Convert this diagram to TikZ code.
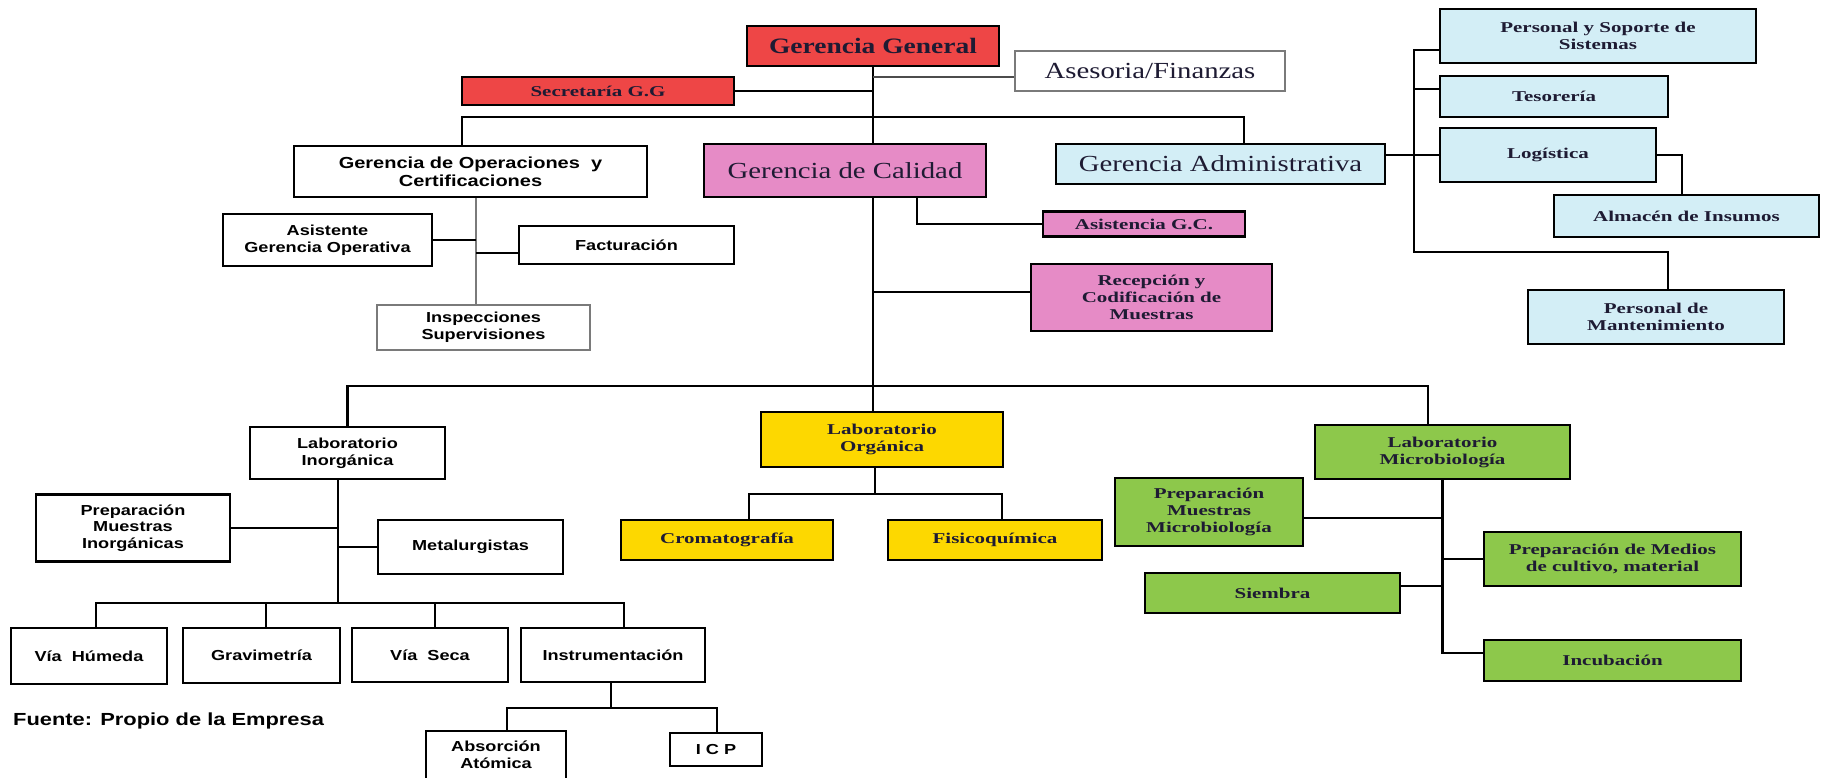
\documentclass[tikz,border=0pt]{standalone}
\usepackage{fontspec}
\usetikzlibrary{backgrounds}
\newfontfamily\serifbig[FakeStretch=1.25]{Liberation Serif}
\newfontfamily\serifsm[FakeStretch=1.4]{Liberation Serif}
\newfontfamily\sansb[FakeStretch=1.25]{Liberation Sans}

\definecolor{rojo}{HTML}{EE4646}
\definecolor{rosa}{HTML}{E68BC6}
\definecolor{celeste}{HTML}{D3EEF6}
\definecolor{amarillo}{HTML}{FDD800}
\definecolor{verde}{HTML}{8DC84B}
\definecolor{serifink}{HTML}{1E1B33}
\definecolor{gris}{HTML}{7A7A7A}

\tikzset{
  box/.style={draw=black, line width=2.8pt, inner sep=0pt, align=center, fill=white},
  wh/.style 2 args={minimum width=#1, minimum height=#2},
  bigtxt/.style={font=\serifbig\fontsize{23}{26}\selectfont, text=serifink},
  bigbold/.style={font=\serifbig\bfseries\fontsize{22}{25}\selectfont, text=serifink},
  smtxt/.style={font=\serifsm\bfseries\fontsize{15}{17}\selectfont, text=serifink},
  sanstxt/.style={font=\sansb\bfseries\fontsize{14.5}{16.7}\selectfont, text=black},
  redbox/.style={box, fill=rojo},
  pinkbox/.style={box, fill=rosa},
  bluebox/.style={box, fill=celeste},
  yellowbox/.style={box, fill=amarillo},
  greenbox/.style={box, fill=verde},
  graybox/.style={box, draw=gris, line width=1.8pt},
  conn/.style={draw=black, line width=2.6pt},
  grayconn/.style={draw=gris, line width=2.2pt},
  thinconn/.style={draw=black!70, line width=1.3pt},
}

\begin{document}
\begin{tikzpicture}[x=1pt, y=-1pt]
\useasboundingbox (0,0) rectangle (1822,778);

% --- top management ---
\node[redbox, bigbold, wh={252}{40}] (gg) at (873,46) {Gerencia General};
\node[graybox, bigtxt, wh={270}{40}] (ase) at (1150,71) {Asesoria/Finanzas};
\node[redbox, smtxt, wh={272}{28}] (sec) at (598,91) {Secretaría G.G};
\node[box, sanstxt, font=\sansb\bfseries\fontsize{16}{18}\selectfont, wh={353}{51}] (ops) at (470.5,171.5) {Gerencia de Operaciones~~y\\Certificaciones};
\node[pinkbox, bigtxt, wh={282}{53}] (gc) at (845,170.5) {Gerencia de Calidad};
\node[bluebox, bigtxt, wh={329}{40}] (ga) at (1220.5,164) {Gerencia Administrativa};

% --- administration ---
\node[bluebox, smtxt, wh={316}{54}] (pss) at (1598,36) {Personal y Soporte de\\Sistemas};
\node[bluebox, smtxt, wh={228}{41}] (tes) at (1554,96.5) {Tesorería};
\node[bluebox, smtxt, wh={216}{54}] (log) at (1548,155) {Logística};
\node[bluebox, smtxt, wh={265}{42}] (alm) at (1686.5,216) {Almacén de Insumos};
\node[bluebox, smtxt, wh={256}{54}] (pman) at (1656,317) {Personal de\\Mantenimiento};

% --- operations ---
\node[box, sanstxt, wh={209}{52}] (asg) at (327.5,240) {Asistente\\Gerencia Operativa};
\node[box, sanstxt, wh={215}{38}] (fac) at (626.5,245) {Facturación};
\node[graybox, sanstxt, wh={213}{45}] (insp) at (483.5,327.5) {Inspecciones\\Supervisiones};

% --- quality ---
\node[pinkbox, smtxt, wh={202}{25}] (asi) at (1144,224) {Asistencia G.C.};
\node[pinkbox, smtxt, wh={241}{67}] (rec) at (1151.5,297.5) {Recepción y\\Codificación de\\Muestras};

% --- inorganic laboratory ---
\node[box, sanstxt, wh={195}{52}] (linorg) at (347.5,453) {Laboratorio\\Inorgánica};
\node[box, sanstxt, wh={194}{67}] (pmi) at (133,528) {Preparación\\Muestras\\Inorgánicas};
\node[box, sanstxt, wh={185}{54}] (met) at (470.5,547) {Metalurgistas};
\node[box, sanstxt, wh={156}{56}] (vh) at (89,656) {Vía~~Húmeda};
\node[box, sanstxt, wh={157}{55}] (grav) at (261.5,655.5) {Gravimetría};
\node[box, sanstxt, wh={156}{54}] (vs) at (430,655) {Vía~~Seca};
\node[box, sanstxt, wh={184}{54}] (inst) at (613,655) {Instrumentación};
\node[box, sanstxt, wh={140}{48}] (abs) at (496,755) {Absorción\\Atómica};
\node[box, sanstxt, wh={92}{33}] (icp) at (716,749.5) {I C P};
\node[sanstxt, font=\sansb\bfseries\fontsize{17.5}{20}\selectfont, anchor=west, inner sep=0pt] (fuente) at (13,721) {Fuente: Propio de la Empresa};

% --- organic laboratory ---
\node[yellowbox, smtxt, wh={242}{55}] (lorg) at (882,439.5) {Laboratorio\\Orgánica};
\node[yellowbox, smtxt, wh={212}{40}] (crom) at (727,540) {Cromatografía};
\node[yellowbox, smtxt, wh={214}{40}] (fis) at (995,540) {Fisicoquímica};

% --- microbiology laboratory ---
\node[greenbox, smtxt, wh={255}{54}] (lmic) at (1442.5,452) {Laboratorio\\Microbiología};
\node[greenbox, smtxt, wh={188}{68}] (pmm) at (1209,512) {Preparación\\Muestras\\Microbiología};
\node[greenbox, smtxt, wh={257}{54}] (pmed) at (1612.5,559) {Preparación de Medios\\de cultivo, material};
\node[greenbox, smtxt, wh={255}{40}] (sie) at (1272.5,593) {Siembra};
\node[greenbox, smtxt, wh={257}{41}] (inc) at (1612.5,660.5) {Incubación};

% --- junction points ---
\coordinate (hbar) at (873,117);
\coordinate (busbot) at (1414,252);
\coordinate (opsv) at ([xshift=5.5pt]ops.south);
\coordinate (gca) at ([xshift=72pt]gc.south);
\coordinate (labbar) at (873,386);
\coordinate (ibar) at (338,603);
\coordinate (instbar) at (611,708);
\coordinate (obar) at (875,494);

\begin{pgfonlayer}{background}
\fill[white] (0,0) rectangle (1822,778);
% top trunk
\draw[conn] (gg.south) -- (gg.south |- gc.north);
\draw[conn] (sec.east) -- (sec.east -| gg.south);
\draw[thinconn] ([yshift=-6pt]ase.west) -- ([yshift=-6pt]ase.west -| gg.south);
\draw[conn] ([xshift=-8.5pt]ops.north) |- (hbar) -| ([xshift=23.5pt]ga.north);

% administration branch
\draw[conn] (ga.east |- log.west) -- (log.west);
\draw[conn] ([yshift=-14pt]pss.west) -| (busbot) -| ([xshift=12pt]pman.north);
\draw[conn] ([yshift=7.5pt]tes.west) -- ([yshift=7.5pt]tes.west -| busbot);
\draw[conn] (log.east) -| ([xshift=-4.5pt]alm.north);

% operations branch
\draw[grayconn] (opsv) -- (opsv |- insp.north);
\draw[conn] (asg.east) -- (asg.east -| opsv);
\draw[conn] ([yshift=-8pt]fac.west) -- ([yshift=-8pt]fac.west -| opsv);

% quality branch
\draw[conn] (gc.south -| gg.south) -- (gg.south |- lorg.north);
\draw[conn] (gca) |- (asi.west);
\draw[conn] ([yshift=5.5pt]rec.west) -- ([yshift=5.5pt]rec.west -| gg.south);
\draw[conn] (linorg.north) |- (labbar) -| ([xshift=-14.5pt]lmic.north);

% inorganic laboratory
\draw[conn] ([xshift=-9.5pt]linorg.south) -- (ibar);
\draw[conn] (pmi.east) -- (pmi.east -| ibar);
\draw[conn] (met.west) -- (met.west -| ibar);
\draw[conn] ([xshift=7pt]vh.north) |- (ibar) -| ([xshift=11pt]inst.north);
\draw[conn] ([xshift=4.5pt]grav.north) -- ([xshift=4.5pt]grav.north |- ibar);
\draw[conn] ([xshift=5pt]vs.north) -- ([xshift=5pt]vs.north |- ibar);
\draw[conn] ([xshift=-2pt]inst.south) -- (instbar);
\draw[conn] ([xshift=11pt]abs.north) |- (instbar) -| ([xshift=1pt]icp.north);

% organic laboratory
\draw[conn] ([xshift=-7pt]lorg.south) -- (obar);
\draw[conn] ([xshift=22pt]crom.north) |- (obar) -| ([xshift=7pt]fis.north);

% microbiology laboratory
\draw[conn] ([yshift=7.5pt]inc.west) -| (lmic.south);
\draw[conn] ([yshift=-6pt]pmm.east) -- ([yshift=-6pt]pmm.east -| lmic.south);
\draw[conn] (pmed.west) -- (pmed.west -| lmic.south);
\draw[conn] ([yshift=7pt]sie.east) -- ([yshift=7pt]sie.east -| lmic.south);
\end{pgfonlayer}
\end{tikzpicture}
\end{document}
